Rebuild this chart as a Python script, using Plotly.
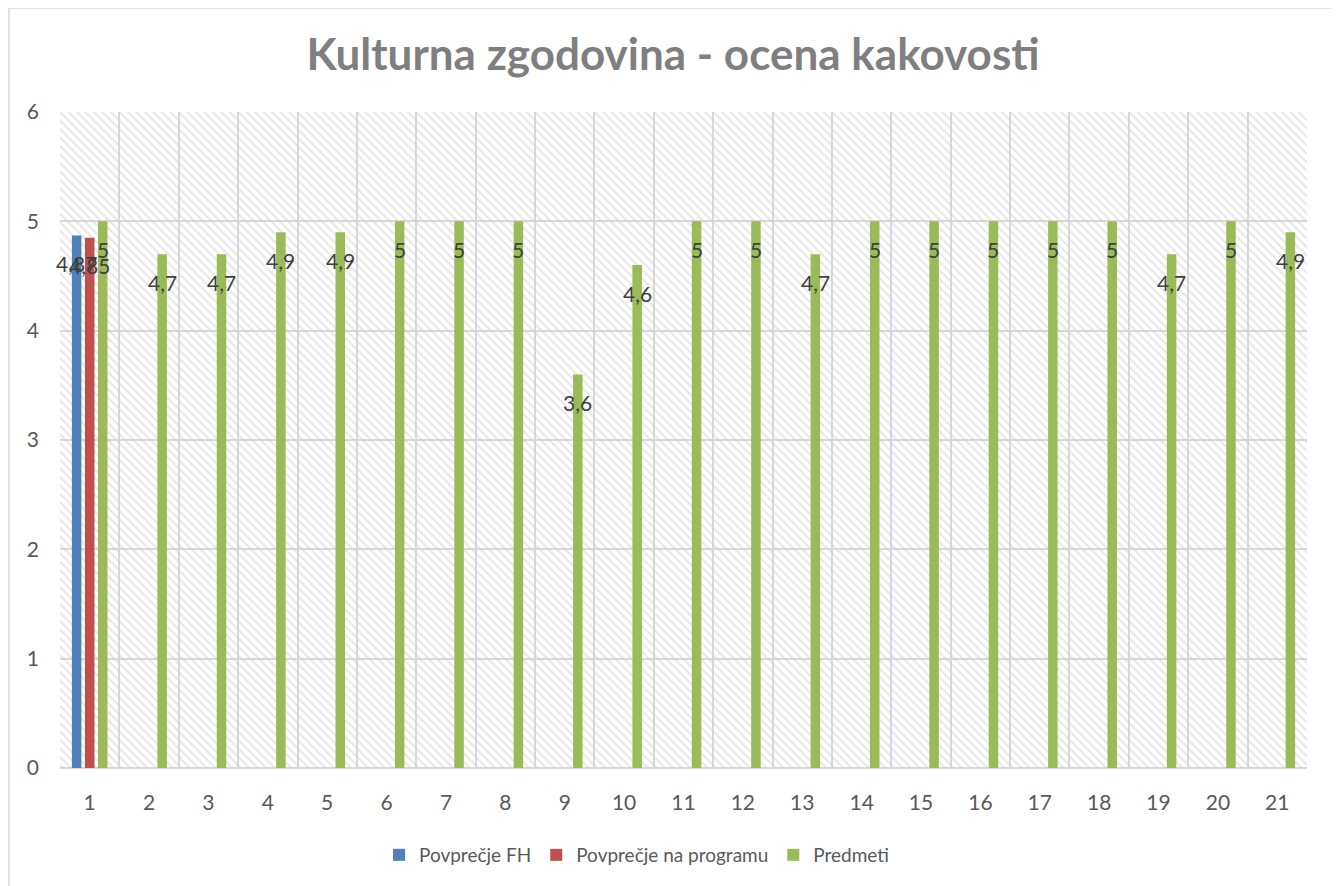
import plotly.graph_objects as go

# ---- data ----
categories = [str(i) for i in range(1, 22)]
fh_cats = ["1"]
fh_values = [4.87]
prog_cats = ["1"]
prog_values = [4.85]
predmeti_values = [5, 4.7, 4.7, 4.9, 4.9, 5, 5, 5, 3.6, 4.6, 5, 5, 4.7, 5, 5, 5, 5, 5, 4.7, 5, 4.9]

series_names = ["Povprečje FH", "Povprečje na programu", "Predmeti"]
y_ticks = [0, 1, 2, 3, 4, 5, 6]

# ---- style ----
FONT = "Lato"
TEXT = "#595959"
GRID = "#d9d9d9"
COLORS = ["#4f81bd", "#c0504d", "#9bbb59"]
BAR_W = 0.16
OFFSETS = [-0.30, -0.08, 0.14]
W, H = 1339, 886
OFF = 8                      # page body margin
PL, PR, PT, PB = 60, 1307, 112, 768   # plot box in page pixels
ML, MT = PL - OFF, PT - OFF
MR, MB = W + OFF - PR, H + OFF - PB
PW, PH = PR - PL, PB - PT
cat_px = PW / len(categories)
LABEL_SIZE = 21


def fmt(v):
    return f"{v:g}".replace(".", ",")


fig = go.Figure()

# hatched plot-area background (one bar spanning all categories)
fig.add_trace(go.Bar(
    x=[categories[len(categories) // 2]], y=[y_ticks[-1]], base=0,
    width=len(categories),
    marker=dict(color="rgba(0,0,0,0)", line=dict(width=0),
                pattern=dict(shape="\\", fgcolor="#d0d0d0", size=6, solidity=0.35)),
    showlegend=False, hoverinfo="skip",
))

series = [
    (fh_cats, fh_values),
    (prog_cats, prog_values),
    (categories, predmeti_values),
]

annotations = []
for i, ((xs, ys), name) in enumerate(zip(series, series_names)):
    fig.add_trace(go.Bar(
        x=xs, y=ys, name=name, width=BAR_W, offset=OFFSETS[i],
        marker=dict(color=COLORS[i], line=dict(width=0)),
    ))
    shift = (OFFSETS[i] + BAR_W / 2) * cat_px
    for x, y in zip(xs, ys):
        annotations.append(dict(
            x=categories.index(x), y=y, xref="x", yref="y", text=fmt(y),
            showarrow=False, xshift=shift, yshift=-28,
            font=dict(family=FONT, size=LABEL_SIZE, color="#404040"),
        ))

fig.update_layout(
    width=W, height=H,
    margin=dict(l=ML, r=MR, t=MT, b=MB),
    barmode="overlay",
    paper_bgcolor="white",
    plot_bgcolor="white",
    font=dict(family=FONT, color=TEXT, size=LABEL_SIZE),
    title=dict(
        text="<b>Kulturna zgodovina - ocena kakovosti</b>",
        x=(673 - PL) / PW, xref="paper", xanchor="center",
        y=1 - (55 - OFF) / H, yref="container", yanchor="middle",
        font=dict(family=FONT, size=44, color="#7f7f7f"),
    ),
    xaxis=dict(
        type="category", categoryorder="array", categoryarray=categories,
        range=[-0.5, len(categories) - 0.5],
        tickson="boundaries", showgrid=True, gridcolor=GRID, gridwidth=1.5,
        ticks="outside", ticklen=20, tickcolor="rgba(0,0,0,0)",
        ticklabelstandoff=20,
        showline=False, zeroline=False,
        tickfont=dict(family=FONT, size=LABEL_SIZE, color=TEXT),
    ),
    yaxis=dict(
        range=[y_ticks[0], y_ticks[-1]], tickvals=y_ticks,
        showgrid=True, gridcolor=GRID, gridwidth=1.5,
        zeroline=True, zerolinecolor=GRID, zerolinewidth=1.5,
        ticks="", showline=False, ticklabelstandoff=20,
        tickfont=dict(family=FONT, size=LABEL_SIZE, color=TEXT),
    ),
    legend=dict(
        orientation="h", x=(637 - PL) / PW, xanchor="center", y=-(855 - PB) / PH,
        yanchor="middle", font=dict(family=FONT, size=19, color=TEXT),
        traceorder="normal",
    ),
    annotations=annotations,
    shapes=[dict(
        type="rect", xref="paper", yref="paper",
        x0=(9 - PL) / PW, x1=(1335 - PL) / PW,
        y0=-(892 - PB) / PH, y1=(PB - 8) / PH,
        line=dict(color=GRID, width=1.5), fillcolor="rgba(0,0,0,0)", layer="below",
    )],
)

fig.write_html("out.html")
